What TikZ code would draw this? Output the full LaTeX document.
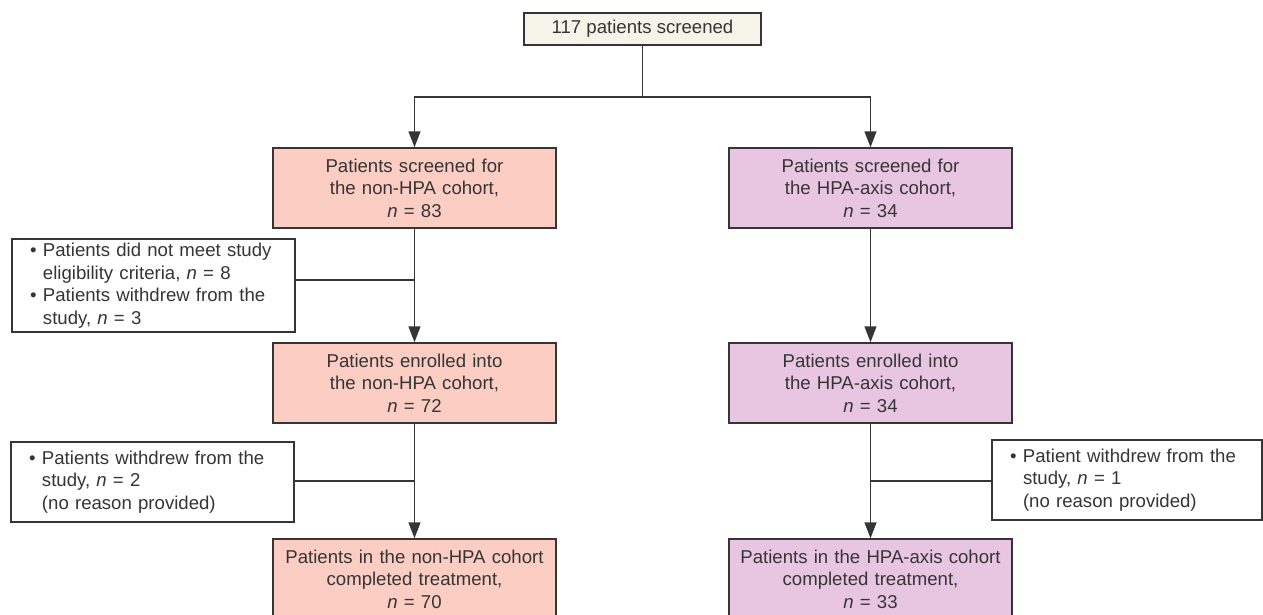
\documentclass[tikz,border=0pt]{standalone}
\usepackage{fontspec}
\setmainfont{Liberation Sans}
\usetikzlibrary{arrows.meta}
\definecolor{startfill}{HTML}{F4F5E8}
\definecolor{nonfill}{HTML}{FCCDC2}
\definecolor{hpafill}{HTML}{E8C6E2}
\definecolor{linegray}{HTML}{353535}
\newcommand{\bulletitem}{\makebox[13pt][l]{\textbullet}}
\newcommand{\contindent}{\hspace*{13pt}}

\begin{document}
\begin{tikzpicture}[x=1pt,y=-1pt,>={Triangle[width=12pt,length=16pt]},line width=1.5pt,draw=linegray,
    font=\fontsize{18.6}{22.5}\selectfont,text=linegray]
    \tikzstyle{box}=[rectangle,draw=linegray,line width=1.5pt,inner sep=0pt,align=center]
    \tikzstyle{start box}=[box,fill=startfill,minimum width=237pt,minimum height=32pt]
    \tikzstyle{non box}=[box,fill=nonfill,text width=280pt,minimum width=283pt,minimum height=80pt]
    \tikzstyle{hpa box}=[box,fill=hpafill,text width=280pt,minimum width=283pt,minimum height=80pt]
    \tikzstyle{excl box}=[box,fill=white,align=left,inner xsep=18pt,minimum height=80pt]

    \useasboundingbox (0,0) rectangle (1263,614);

    % Draw the screening node
    \node[start box] (start) at (642.5,29) {117 patients screened};

    % Draw the non-HPA column
    \node[non box] (nonA) at (414.5,188) {Patients screened for\\ the non-HPA cohort,\\ \textit{n} = 83};
    \node[non box] (nonB) at (414.5,383) {Patients enrolled into\\ the non-HPA cohort,\\ \textit{n} = 72};
    \node[non box] (nonC) at (414.5,579) {Patients in the non-HPA cohort\\ completed treatment,\\ \textit{n} = 70};

    % Draw the HPA-axis column
    \node[hpa box] (hpaA) at (870.5,188) {Patients screened for\\ the HPA-axis cohort,\\ \textit{n} = 34};
    \node[hpa box] (hpaB) at (870.5,383) {Patients enrolled into\\ the HPA-axis cohort,\\ \textit{n} = 34};
    \node[hpa box] (hpaC) at (870.5,579) {Patients in the HPA-axis cohort\\ completed treatment,\\ \textit{n} = 33};

    % Draw the exclusion boxes
    \node[excl box,text width=247pt,minimum height=93pt] (excl1) at (153.5,285.5)
        {\bulletitem Patients did not meet study\\ \contindent eligibility criteria, \textit{n} = 8\\
         \bulletitem Patients withdrew from the\\ \contindent study, \textit{n} = 3};
    \node[excl box,text width=247pt] (excl2) at (152.5,482)
        {\bulletitem Patients withdrew from the\\ \contindent study, \textit{n} = 2\\ \contindent (no reason provided)};
    \node[excl box,text width=234pt] (excl3) at (1127,480)
        {\bulletitem Patient withdrew from the\\ \contindent study, \textit{n} = 1\\ \contindent (no reason provided)};

    % Split the screened patients into the two cohorts
    \coordinate (split) at (642.5,97);
    \draw (start) -- (split);
    \draw[->] (split) -| (nonA);
    \draw[->] (split) -| (hpaA);

    % Connect each stage with the next one
    \foreach \source/\dest in {nonA/nonB,nonB/nonC,hpaA/hpaB,hpaB/hpaC}
        \draw[->] (\source) -- (\dest);

    % Side branches to the exclusion boxes
    \coordinate (j1) at (nonA.south |- 0,280);
    \coordinate (j2) at (nonB.south |- 0,481);
    \coordinate (j3) at (hpaB.south |- 0,481);
    \draw (j1) -- (j1 -| excl1.east);
    \draw (j2) -- (j2 -| excl2.east);
    \draw (j3) -- (j3 -| excl3.west);
\end{tikzpicture}
\end{document}
